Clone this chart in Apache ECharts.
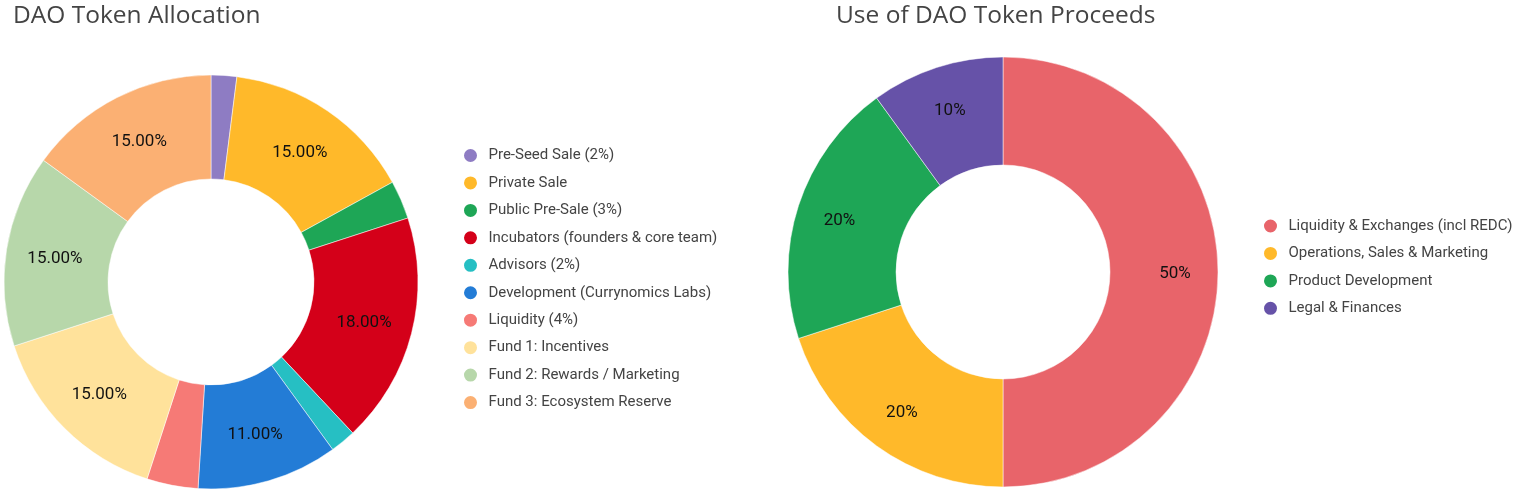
<!DOCTYPE html>
<html><head><meta charset="utf-8">
<script src="https://cdn.jsdelivr.net/npm/echarts@6/dist/echarts.min.js"></script>
<style>html,body{margin:0;padding:0;background:#fff}#c{width:1516px;height:495px}</style>
</head><body><div id="c"></div>
<script>
const allocNames = ['Pre-Seed Sale (2%)','Private Sale','Public Pre-Sale (3%)','Incubators (founders & core team)','Advisors (2%)','Development (Currynomics Labs)','Liquidity (4%)','Fund 1: Incentives','Fund 2: Rewards / Marketing','Fund 3: Ecosystem Reserve'];
const allocValues = [2,15,3,18,2,11,4,15,15,15];
const allocColors = ['#8E7CC3','#FFB92A','#1EA656','#D40019','#26BFC3','#237CD6','#F67A76','#FFE29B','#B7D7AA','#FBB073'];
const procNames = ['Liquidity & Exchanges (incl REDC)','Operations, Sales & Marketing','Product Development','Legal & Finances'];
const procValues = [50,20,20,10];
const procColors = ['#E8646A','#FFB92A','#1EA656','#6652A8'];

const chart = echarts.init(document.getElementById('c'));
const legendText = {fontFamily:'Roboto',fontSize:15,color:'#444',lineHeight:17,padding:0};
const titleStyle = {fontFamily:'Open Sans',fontWeight:'normal',fontSize:24.5,color:'#444'};
chart.setOption({
  animation:false,
  title:[
    {text:'DAO Token Allocation',left:8,top:-1,textStyle:titleStyle},
    {text:'Use of DAO Token Proceeds',left:831,top:-1,textStyle:titleStyle}
  ],
  legend:[
    {orient:'vertical',left:462,top:147,padding:0,icon:'circle',itemWidth:26,itemHeight:15,itemGap:10.45,data:allocNames,textStyle:legendText},
    {orient:'vertical',left:1262,top:217.5,padding:0,icon:'circle',itemWidth:26,itemHeight:15,itemGap:10.45,data:procNames,textStyle:legendText}
  ],
  series:[
    {type:'pie',center:[211,282],radius:[103,207],startAngle:90,clockwise:true,
     data:allocNames.map((n,i)=>({name:n,value:allocValues[i],itemStyle:{color:allocColors[i]}})),
     itemStyle:{borderColor:'#fff',borderWidth:0.5},
     label:{position:'inside',fontFamily:'Roboto',fontSize:17,color:'#111',offset:[0,1],
       formatter:p=>p.value>=10?p.percent.toFixed(2)+'%':''},
     labelLine:{show:false},emphasis:{disabled:true}},
    {type:'pie',center:[1003,272],radius:[107,215],startAngle:90,clockwise:true,
     data:procNames.map((n,i)=>({name:n,value:procValues[i],itemStyle:{color:procColors[i]}})),
     itemStyle:{borderColor:'#fff',borderWidth:0.5},
     label:{show:false},
     labelLine:{show:false},emphasis:{disabled:true}},
    {type:'pie',center:[1003,272],radius:[107,231],startAngle:90,clockwise:true,silent:true,z:5,
     data:procNames.map((n,i)=>({name:n,value:procValues[i]})),
     itemStyle:{color:'rgba(0,0,0,0)',borderWidth:0},
     label:{position:'inside',fontFamily:'Roboto',fontSize:17,color:'#111',offset:[0,2],
       formatter:p=>Math.round(p.percent)+'%'},
     labelLine:{show:false},emphasis:{disabled:true}}
  ]
});
</script></body></html>
